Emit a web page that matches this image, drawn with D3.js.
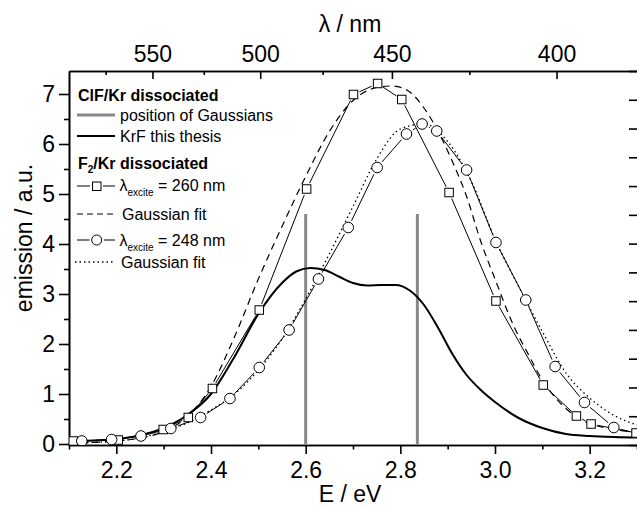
<!DOCTYPE html>
<html>
<head>
<meta charset="utf-8">
<script src="https://cdn.jsdelivr.net/npm/d3@7"></script>
<style>
body { margin: 0; background: #fff; }
svg { display: block; font-family: "Liberation Sans", Arial, sans-serif; }
</style>
</head>
<body>
<div class="chart"></div>
<script>
// KrF emission (ClF/Kr dissociated)
var krfEnergy   = [2.10, 2.15, 2.20, 2.25, 2.30, 2.35, 2.40, 2.45, 2.50, 2.55, 2.58, 2.61, 2.64, 2.67, 2.70, 2.73, 2.76, 2.79, 2.82, 2.85, 2.88, 2.91, 2.94, 2.97, 3.00, 3.05, 3.10, 3.15, 3.20, 3.25, 3.30];
var krfEmission = [0.05, 0.07, 0.10, 0.17, 0.32, 0.58, 1.00, 1.75, 2.60, 3.22, 3.45, 3.52, 3.48, 3.35, 3.22, 3.17, 3.18, 3.18, 3.07, 2.78, 2.32, 1.80, 1.38, 1.08, 0.84, 0.52, 0.32, 0.20, 0.16, 0.14, 0.13];

// F2/Kr, excitation 260 nm (squares)
var exc260Energy   = [2.109, 2.204, 2.299, 2.352, 2.403, 2.502, 2.602, 2.701, 2.752, 2.803, 2.903, 3.002, 3.102, 3.172, 3.203, 3.298];
var exc260Emission = [0.06, 0.08, 0.29, 0.53, 1.11, 2.68, 5.10, 6.99, 7.21, 6.89, 5.03, 2.86, 1.18, 0.56, 0.40, 0.22];

// Gaussian fit of the 260 nm data (dashed)
var fit260Energy   = [2.10, 2.20, 2.25, 2.30, 2.35, 2.40, 2.45, 2.50, 2.55, 2.60, 2.65, 2.70, 2.75, 2.78, 2.81, 2.85, 2.88, 2.91, 2.94, 2.97, 3.00, 3.04, 3.07, 3.10, 3.13, 3.18, 3.24, 3.30];
var fit260Emission = [0.02, 0.06, 0.12, 0.25, 0.55, 1.15, 2.15, 3.30, 4.35, 5.35, 6.25, 6.87, 7.13, 7.16, 7.10, 6.72, 6.25, 5.65, 4.95, 4.05, 3.30, 2.35, 1.80, 1.28, 0.90, 0.50, 0.31, 0.24];

// F2/Kr, excitation 248 nm (circles)
var exc248Energy   = [2.127, 2.190, 2.252, 2.315, 2.378, 2.440, 2.502, 2.565, 2.627, 2.690, 2.751, 2.813, 2.846, 2.877, 2.940, 3.002, 3.065, 3.127, 3.189, 3.251, 3.313];
var exc248Emission = [0.06, 0.09, 0.16, 0.31, 0.53, 0.91, 1.53, 2.28, 3.30, 4.33, 5.53, 6.20, 6.40, 6.26, 5.48, 4.03, 2.88, 1.55, 0.83, 0.33, 0.18];

// Gaussian fit of the 248 nm data (dotted)
var fit248Energy   = [2.10, 2.20, 2.25, 2.30, 2.35, 2.40, 2.45, 2.50, 2.55, 2.60, 2.65, 2.70, 2.75, 2.80, 2.85, 2.90, 2.95, 3.00, 3.05, 3.10, 3.15, 3.20, 3.25, 3.30];
var fit248Emission = [0.02, 0.06, 0.12, 0.25, 0.42, 0.68, 1.00, 1.48, 2.10, 2.90, 3.80, 4.75, 5.70, 6.30, 6.40, 6.05, 5.25, 4.10, 3.15, 2.25, 1.42, 0.92, 0.58, 0.38];

// positions of the two Gaussians (gray bars)
var gaussCenters = [2.6, 2.836];
var gaussHeight = 4.6;

// axis ticks
var energyTicks = [2.2, 2.4, 2.6, 2.8, 3.0, 3.2];
var energyMinor = [2.1, 2.3, 2.5, 2.7, 2.9, 3.1, 3.3];
var emissionTicks = [0, 1, 2, 3, 4, 5, 6, 7];
var emissionMinor = [0.5, 1.5, 2.5, 3.5, 4.5, 5.5, 6.5];
var wavelengthTicks = [550, 500, 450, 400];
var wavelengthMinor = [575, 525, 475, 425];
var nmToEv = 1252; // conversion the top axis seems to use

var svgWidth = 637;
var svgHeight = 508;
var margin = {top: 71, bottom: 63, left: 69, right: 0};
var width = svgWidth - margin.left - margin.right;
var height = svgHeight - margin.top - margin.bottom;

var svg = d3.select(".chart")
            .append("svg")
            .attr("width", svgWidth)
            .attr("height", svgHeight);

var chartGroup = svg.append("g")
                    .attr("transform", `translate(${margin.left}, ${margin.top})`);

var xScale = d3.scaleLinear().domain([2.1, 3.3]).range([0, width]);
var yScale = d3.scaleLinear().domain([-0.02, 7.46]).range([height, 0]);
var yRight = d3.scaleLinear().domain([0, 6.5]).range([height, 0]);

var font = '"Liberation Sans", Arial, sans-serif';

function styleAxis(g, size) {
    g.attr("font-size", size).attr("font-family", font);
    g.selectAll("path, line").attr("stroke", "#000").attr("stroke-width", 1.6);
    g.selectAll("text").attr("fill", "#000");
}

// bottom axis
chartGroup.append("g")
          .attr("transform", `translate(0, ${height})`)
          .call(d3.axisBottom(xScale).tickValues(energyMinor).tickFormat("").tickSizeInner(4.5).tickSizeOuter(0))
          .call(styleAxis, 23);
chartGroup.append("g")
          .attr("transform", `translate(0, ${height})`)
          .call(d3.axisBottom(xScale).tickValues(energyTicks).tickFormat(d3.format(".1f")).tickSizeInner(9).tickSizeOuter(0).tickPadding(8))
          .call(styleAxis, 23);

// left axis
chartGroup.append("g")
          .call(d3.axisLeft(yScale).tickValues(emissionMinor).tickFormat("").tickSizeInner(5).tickSizeOuter(0))
          .call(styleAxis, 23);
chartGroup.append("g")
          .call(d3.axisLeft(yScale).tickValues(emissionTicks).tickFormat(d3.format("d")).tickSizeInner(10).tickSizeOuter(0).tickPadding(4))
          .call(styleAxis, 23);

// top axis (wavelength), ticks inward
chartGroup.append("g")
          .call(d3.axisTop(xScale).tickValues(wavelengthMinor.map(d => nmToEv / d)).tickFormat("").tickSizeInner(-4).tickSizeOuter(0))
          .call(styleAxis, 23);
chartGroup.append("g")
          .call(d3.axisTop(xScale).tickValues(wavelengthTicks.map(d => nmToEv / d))
                  .tickFormat(d => Math.round(nmToEv / d)).tickSizeInner(-8).tickSizeOuter(0).tickPadding(9))
          .call(styleAxis, 23);

// right axis, ticks only
chartGroup.append("g")
          .attr("transform", `translate(${width + 1.5}, 0)`)
          .call(d3.axisRight(yRight).ticks(13).tickFormat("").tickSizeInner(-9.5).tickSizeOuter(0))
          .call(styleAxis, 23);

// axis titles
svg.append("text")
   .attr("x", margin.left + width / 2 - 3)
   .attr("y", 502)
   .attr("text-anchor", "middle")
   .attr("font-size", 23)
   .text("E / eV");
svg.append("text")
   .attr("x", margin.left + width / 2 - 3)
   .attr("y", 32)
   .attr("text-anchor", "middle")
   .attr("font-size", 23)
   .text("λ / nm");
svg.append("text")
   .attr("transform", "translate(32, 238) rotate(-90)")
   .attr("text-anchor", "middle")
   .attr("font-size", 23)
   .text("emission / a.u.");

// clip to plot area
svg.append("defs").append("clipPath").attr("id", "plotClip")
   .append("rect").attr("x", 0).attr("y", -2).attr("width", width).attr("height", height + 2);
var plot = chartGroup.append("g").attr("clip-path", "url(#plotClip)");

// gray bars at the Gaussian positions
plot.selectAll(".gauss")
    .data(gaussCenters)
    .enter()
    .append("line")
    .attr("x1", d => xScale(d)).attr("x2", d => xScale(d))
    .attr("y1", yScale(0)).attr("y2", yScale(gaussHeight))
    .attr("stroke", "#888").attr("stroke-width", 3);

function zipData(E, V) { return E.map((e, i) => [e, V[i]]); }

var smoothLine = d3.line()
                   .x(d => xScale(d[0]))
                   .y(d => yScale(d[1]))
                   .curve(d3.curveMonotoneX);

// KrF this thesis
plot.append("path")
    .attr("d", smoothLine(zipData(krfEnergy, krfEmission)))
    .attr("fill", "none").attr("stroke", "#000").attr("stroke-width", 2);

// Gaussian fits
plot.append("path")
    .attr("d", smoothLine(zipData(fit260Energy, fit260Emission)))
    .attr("fill", "none").attr("stroke", "#000").attr("stroke-width", 1.2)
    .attr("stroke-dasharray", "7,5");
plot.append("path")
    .attr("d", smoothLine(zipData(fit248Energy, fit248Emission)))
    .attr("fill", "none").attr("stroke", "#000").attr("stroke-width", 1.3)
    .attr("stroke-dasharray", "1.5,3");

// connecting line with a gap at each symbol
function gappedLine(g, E, V, gap) {
    var pts = E.map((e, i) => [xScale(e), yScale(V[i])]);
    for (var i = 0; i < pts.length - 1; i++) {
        var dx = pts[i + 1][0] - pts[i][0], dy = pts[i + 1][1] - pts[i][1];
        var len = Math.sqrt(dx * dx + dy * dy);
        if (len <= 2 * gap) continue;
        var ux = dx / len, uy = dy / len;
        g.append("line")
         .attr("x1", pts[i][0] + ux * gap).attr("y1", pts[i][1] + uy * gap)
         .attr("x2", pts[i + 1][0] - ux * gap).attr("y2", pts[i + 1][1] - uy * gap)
         .attr("stroke", "#000").attr("stroke-width", 1);
    }
}
gappedLine(plot, exc260Energy, exc260Emission, 6.5);
gappedLine(plot, exc248Energy, exc248Emission, 7.5);

// symbols
plot.selectAll(".sq")
    .data(zipData(exc260Energy, exc260Emission))
    .enter()
    .append("rect")
    .attr("x", d => xScale(d[0]) - 4.25)
    .attr("y", d => yScale(d[1]) - 4.25)
    .attr("width", 8.5).attr("height", 8.5)
    .attr("fill", "#fff").attr("stroke", "#000").attr("stroke-width", 1);
plot.selectAll(".circ")
    .data(zipData(exc248Energy, exc248Emission))
    .enter()
    .append("circle")
    .attr("cx", d => xScale(d[0]))
    .attr("cy", d => yScale(d[1]))
    .attr("r", 5.3)
    .attr("fill", "#fff").attr("stroke", "#000").attr("stroke-width", 1);

// legend
var legend = svg.append("g").attr("font-size", 16);

legend.append("text").attr("x", 78).attr("y", 100.5).attr("font-weight", "bold").text("ClF/Kr dissociated");

legend.append("line").attr("x1", 77).attr("x2", 115).attr("y1", 115).attr("y2", 115)
      .attr("stroke", "#888").attr("stroke-width", 3);
legend.append("text").attr("x", 120).attr("y", 121).text("position of Gaussians");

legend.append("line").attr("x1", 77).attr("x2", 115).attr("y1", 136).attr("y2", 136)
      .attr("stroke", "#000").attr("stroke-width", 2);
legend.append("text").attr("x", 120).attr("y", 142).text("KrF this thesis");

var f2 = legend.append("text").attr("x", 78).attr("y", 169).attr("font-weight", "bold");
f2.append("tspan").text("F");
f2.append("tspan").attr("font-size", 10).attr("dy", 4).text("2");
f2.append("tspan").attr("dy", -4).text("/Kr dissociated");

function excLabel(yBase, nm) {
    var t = legend.append("text").attr("x", 119.5).attr("y", yBase);
    t.append("tspan").text("λ");
    t.append("tspan").attr("font-size", 10).attr("dy", 5).text("excite");
    t.append("tspan").attr("dy", -5).text(" = " + nm + " nm");
}

// 260 nm row
legend.append("line").attr("x1", 77).attr("x2", 90).attr("y1", 186).attr("y2", 186).attr("stroke", "#000");
legend.append("line").attr("x1", 103).attr("x2", 115).attr("y1", 186).attr("y2", 186).attr("stroke", "#000");
legend.append("rect").attr("x", 92.5).attr("y", 182).attr("width", 8.5).attr("height", 8.5)
      .attr("fill", "#fff").attr("stroke", "#000");
excLabel(191, 260);

legend.append("line").attr("x1", 77).attr("x2", 115).attr("y1", 214).attr("y2", 214)
      .attr("stroke", "#000").attr("stroke-width", 1.2).attr("stroke-dasharray", "6,4");
legend.append("text").attr("x", 122).attr("y", 220).text("Gaussian fit");

// 248 nm row
legend.append("line").attr("x1", 77).attr("x2", 89.5).attr("y1", 240).attr("y2", 240).attr("stroke", "#000");
legend.append("line").attr("x1", 104).attr("x2", 115).attr("y1", 240).attr("y2", 240).attr("stroke", "#000");
legend.append("circle").attr("cx", 96.7).attr("cy", 240).attr("r", 5)
      .attr("fill", "#fff").attr("stroke", "#000");
excLabel(245.5, 248);

legend.append("line").attr("x1", 75).attr("x2", 114).attr("y1", 262).attr("y2", 262)
      .attr("stroke", "#000").attr("stroke-width", 1.3).attr("stroke-dasharray", "1.5,3");
legend.append("text").attr("x", 121).attr("y", 267.5).text("Gaussian fit");
</script>
</body>
</html>
